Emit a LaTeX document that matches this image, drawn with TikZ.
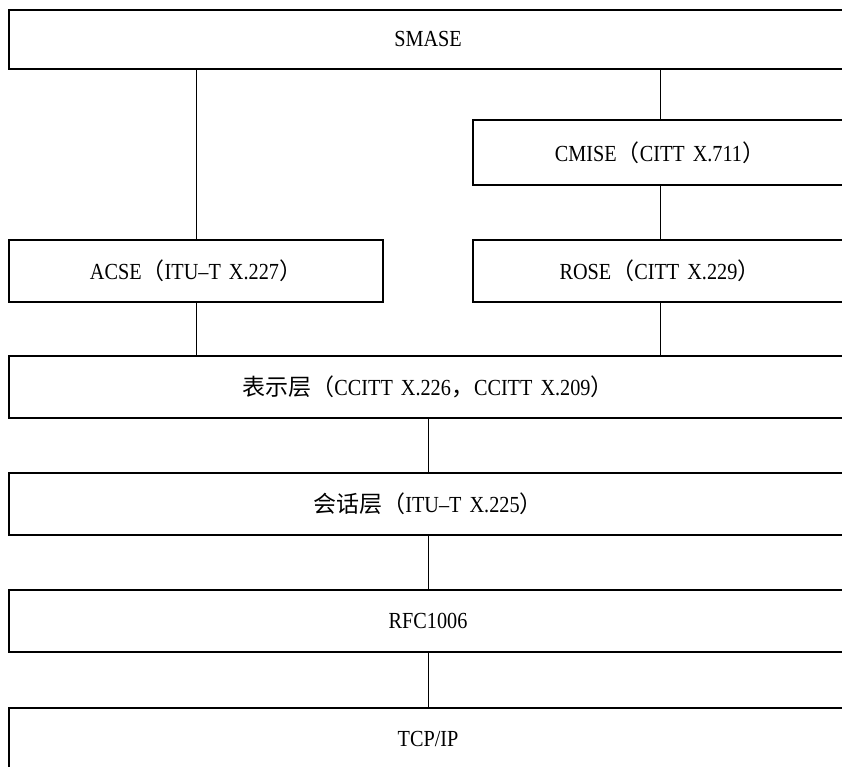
\documentclass[tikz,border=0pt]{standalone}
\usepackage{fontspec}
\setmainfont{Liberation Serif}[FakeStretch=0.88, WordSpace=1.6]
\newfontfamily\cjkfont{Noto Sans CJK SC}[Scale=1.0]
\newcommand{\zh}[1]{{\cjkfont #1}}
\begin{document}
\begin{tikzpicture}[x=1pt,y=1pt,
  layerbox/.style={draw=black, line width=1.3pt, inner sep=0pt, outer sep=0pt,
    minimum height=62pt, font=\fontsize{23}{26}\selectfont, fill=white},
  widebox/.style={layerbox, minimum width=838pt},
  halfbox/.style={layerbox, minimum width=374pt},
  link/.style={draw=black, line width=0.9pt}]
\useasboundingbox (0,0) rectangle (842,767);
\clip (0,0) rectangle (842,767);
\fill[white] (0,0) rectangle (842,767);
% boxes
\node[widebox, minimum height=59pt] (smase) at (428,727.5) {SMASE};
\node[halfbox, minimum height=65pt] (cmise) at (660,614.5) {CMISE\zh{（}CITT X.711\zh{）}};
\node[halfbox] (acse) at (196,496) {ACSE\zh{（}ITU–T X.227\zh{）}};
\node[halfbox] (rose) at (660,496) {ROSE\zh{（}CITT X.229\zh{）}};
\node[widebox] (pres) at (428,380) {\zh{表示层（}CCITT X.226\zh{，}CCITT X.209\zh{）}};
\node[widebox] (sess) at (428,263) {\zh{会话层（}ITU–T X.225\zh{）}};
\node[widebox] (rfc) at (428,146) {RFC1006};
\node[widebox] (tcp) at (428,28) {TCP/IP};
% connectors
\draw[link] (acse.north) -- (acse.north |- smase.south);
\draw[link] (cmise.north) -- (cmise.north |- smase.south);
\draw[link] (cmise.south) -- (rose.north);
\draw[link] (acse.south) -- (acse.south |- pres.north);
\draw[link] (rose.south) -- (rose.south |- pres.north);
\draw[link] (pres.south) -- (sess.north);
\draw[link] (sess.south) -- (rfc.north);
\draw[link] (rfc.south) -- (tcp.north);
\end{tikzpicture}
\end{document}
